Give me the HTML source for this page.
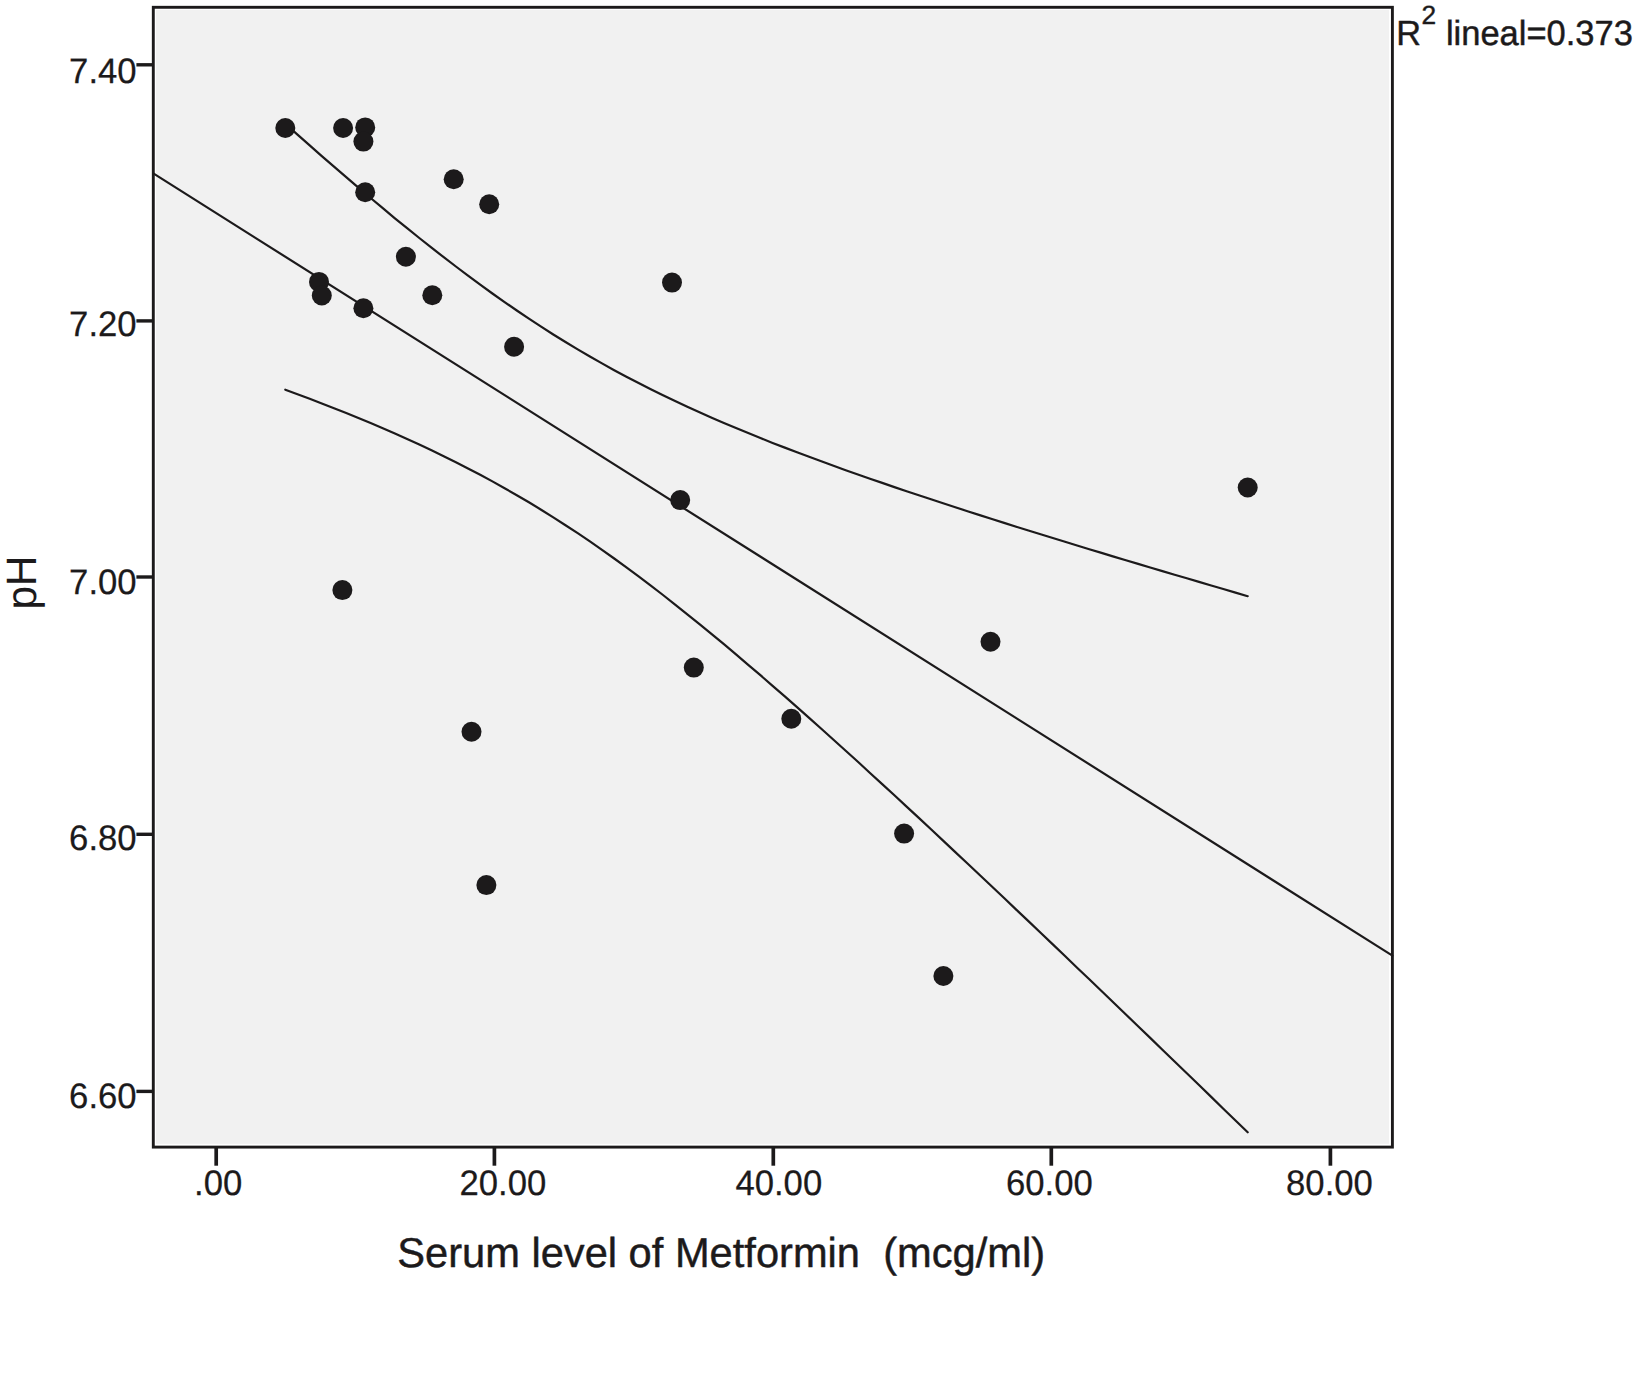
<!DOCTYPE html>
<html lang="en">
<head>
<meta charset="utf-8">
<title>pH vs serum level of Metformin</title>
<style>
html,body{margin:0;padding:0;background:#fff;}
body{width:1634px;height:1376px;overflow:hidden;}
svg{display:block;}
text{text-rendering:geometricPrecision;font-family:"Liberation Sans",sans-serif;fill:#1c1a1b;stroke:#1c1a1b;stroke-width:0.45px;stroke-linejoin:round;}
.curve{fill:none;stroke:#1c1a1b;stroke-width:2.2;stroke-linecap:round;stroke-linejoin:round;}
.tick{stroke:#1c1a1b;stroke-width:3.2;}
</style>
</head>
<body>
<svg width="1634" height="1376" viewBox="0 0 1634 1376">
<rect x="0" y="0" width="1634" height="1376" fill="#ffffff"/>
<rect x="156.0" y="10.0" width="1233.1" height="1133.8" fill="#f1f1f1"/>
<rect x="153.3" y="7.3" width="1239.1" height="1139.8" fill="none" stroke="#1c1a1b" stroke-width="2.9"/>
<g class="tick">
<line x1="136.4" y1="64.8" x2="153.3" y2="64.8" stroke-width="3.4"/>
<line x1="136.4" y1="320.9" x2="153.3" y2="320.9" stroke-width="3.4"/>
<line x1="136.4" y1="577.0" x2="153.3" y2="577.0" stroke-width="3.4"/>
<line x1="136.4" y1="834.3" x2="153.3" y2="834.3" stroke-width="3.4"/>
<line x1="136.4" y1="1091.4" x2="153.3" y2="1091.4" stroke-width="3.4"/>
<line x1="216.2" y1="1147.1" x2="216.2" y2="1165.7" stroke-width="3.7"/>
<line x1="494.4" y1="1147.1" x2="494.4" y2="1165.7" stroke-width="3.7"/>
<line x1="773.3" y1="1147.1" x2="773.3" y2="1165.7" stroke-width="3.7"/>
<line x1="1051.3" y1="1147.1" x2="1051.3" y2="1165.7" stroke-width="3.7"/>
<line x1="1330.4" y1="1147.1" x2="1330.4" y2="1165.7" stroke-width="3.7"/>
</g>
<text transform="translate(136.60 82.60) scale(0.98 1)" font-size="35.4" text-anchor="end" xml:space="preserve" style="stroke-width:0.25px">7.40</text>
<text transform="translate(136.60 336.40) scale(0.98 1)" font-size="35.4" text-anchor="end" xml:space="preserve" style="stroke-width:0.25px">7.20</text>
<text transform="translate(136.60 594.00) scale(0.98 1)" font-size="35.4" text-anchor="end" xml:space="preserve" style="stroke-width:0.25px">7.00</text>
<text transform="translate(136.60 849.80) scale(0.98 1)" font-size="35.4" text-anchor="end" xml:space="preserve" style="stroke-width:0.25px">6.80</text>
<text transform="translate(136.60 1108.20) scale(0.98 1)" font-size="35.4" text-anchor="end" xml:space="preserve" style="stroke-width:0.25px">6.60</text>
<text transform="translate(218.15 1194.50) scale(0.98 1)" font-size="35.4" text-anchor="middle" xml:space="preserve" style="stroke-width:0.25px">.00</text>
<text transform="translate(502.85 1194.50) scale(0.98 1)" font-size="35.4" text-anchor="middle" xml:space="preserve" style="stroke-width:0.25px">20.00</text>
<text transform="translate(778.80 1194.50) scale(0.98 1)" font-size="35.4" text-anchor="middle" xml:space="preserve" style="stroke-width:0.25px">40.00</text>
<text transform="translate(1049.40 1194.50) scale(0.98 1)" font-size="35.4" text-anchor="middle" xml:space="preserve" style="stroke-width:0.25px">60.00</text>
<text transform="translate(1329.45 1194.50) scale(0.98 1)" font-size="35.4" text-anchor="middle" xml:space="preserve" style="stroke-width:0.25px">80.00</text>
<path class="curve" d="M153.3 173.4 L1392.4 955.6"/>
<path class="curve" d="M285.3 123.7 L297.5 134.6 L309.7 145.4 L321.8 156.1 L334.0 166.7 L346.2 177.2 L358.4 187.7 L370.6 198.0 L382.8 208.2 L394.9 218.3 L407.1 228.2 L419.3 238.0 L431.5 247.7 L443.7 257.2 L455.9 266.5 L468.0 275.7 L480.2 284.7 L492.4 293.5 L504.6 302.1 L516.8 310.5 L528.9 318.7 L541.1 326.7 L553.3 334.5 L565.5 342.0 L577.7 349.4 L589.9 356.5 L602.0 363.4 L614.2 370.2 L626.4 376.7 L638.6 383.0 L650.8 389.2 L663.0 395.2 L675.1 401.0 L687.3 406.7 L699.5 412.3 L711.7 417.7 L723.9 422.9 L736.0 428.1 L748.2 433.1 L760.4 438.0 L772.6 442.9 L784.8 447.6 L797.0 452.3 L809.1 456.8 L821.3 461.3 L833.5 465.8 L845.7 470.2 L857.9 474.5 L870.0 478.7 L882.2 482.9 L894.4 487.1 L906.6 491.2 L918.8 495.3 L931.0 499.3 L943.1 503.3 L955.3 507.3 L967.5 511.2 L979.7 515.1 L991.9 519.0 L1004.1 522.9 L1016.2 526.7 L1028.4 530.5 L1040.6 534.3 L1052.8 538.0 L1065.0 541.8 L1077.1 545.5 L1089.3 549.2 L1101.5 552.9 L1113.7 556.6 L1125.9 560.2 L1138.1 563.9 L1150.2 567.5 L1162.4 571.1 L1174.6 574.7 L1186.8 578.3 L1199.0 581.9 L1211.2 585.5 L1223.3 589.0 L1235.5 592.6 L1247.7 596.2"/>
<path class="curve" d="M285.3 389.7 L297.5 394.2 L309.7 398.8 L321.8 403.5 L334.0 408.3 L346.2 413.1 L358.4 418.1 L370.6 423.1 L382.8 428.3 L394.9 433.6 L407.1 439.0 L419.3 444.6 L431.5 450.3 L443.7 456.2 L455.9 462.2 L468.0 468.4 L480.2 474.8 L492.4 481.4 L504.6 488.2 L516.8 495.2 L528.9 502.3 L541.1 509.7 L553.3 517.4 L565.5 525.2 L577.7 533.2 L589.9 541.4 L602.0 549.9 L614.2 558.5 L626.4 567.4 L638.6 576.4 L650.8 585.6 L663.0 595.0 L675.1 604.6 L687.3 614.3 L699.5 624.1 L711.7 634.1 L723.9 644.2 L736.0 654.4 L748.2 664.8 L760.4 675.2 L772.6 685.8 L784.8 696.4 L797.0 707.1 L809.1 717.9 L821.3 728.8 L833.5 739.8 L845.7 750.8 L857.9 761.8 L870.0 773.0 L882.2 784.1 L894.4 795.3 L906.6 806.6 L918.8 817.9 L931.0 829.3 L943.1 840.6 L955.3 852.1 L967.5 863.5 L979.7 875.0 L991.9 886.5 L1004.1 898.0 L1016.2 909.6 L1028.4 921.1 L1040.6 932.7 L1052.8 944.4 L1065.0 956.0 L1077.1 967.7 L1089.3 979.3 L1101.5 991.0 L1113.7 1002.7 L1125.9 1014.5 L1138.1 1026.2 L1150.2 1037.9 L1162.4 1049.7 L1174.6 1061.5 L1186.8 1073.3 L1199.0 1085.0 L1211.2 1096.9 L1223.3 1108.7 L1235.5 1120.5 L1247.7 1132.3"/>
<g fill="#1c1a1b">
<circle cx="285.3" cy="128.0" r="10"/>
<circle cx="343.1" cy="128.0" r="10"/>
<circle cx="365.2" cy="127.4" r="10"/>
<circle cx="363.4" cy="141.6" r="10"/>
<circle cx="365.2" cy="192.2" r="10"/>
<circle cx="453.7" cy="179.3" r="10"/>
<circle cx="489.2" cy="204.3" r="10"/>
<circle cx="405.9" cy="256.8" r="10"/>
<circle cx="319.0" cy="281.9" r="10"/>
<circle cx="321.8" cy="295.5" r="10"/>
<circle cx="363.4" cy="308.2" r="10"/>
<circle cx="432.3" cy="295.2" r="10"/>
<circle cx="514.1" cy="346.7" r="10"/>
<circle cx="672.0" cy="282.6" r="10"/>
<circle cx="680.2" cy="500.1" r="10"/>
<circle cx="342.4" cy="590.1" r="10"/>
<circle cx="693.8" cy="667.6" r="10"/>
<circle cx="471.5" cy="731.7" r="10"/>
<circle cx="791.3" cy="718.8" r="10"/>
<circle cx="486.4" cy="885.1" r="10"/>
<circle cx="904.1" cy="833.6" r="10"/>
<circle cx="943.4" cy="976.0" r="10"/>
<circle cx="990.5" cy="641.7" r="10"/>
<circle cx="1247.7" cy="487.5" r="10"/>
</g>
<text transform="translate(397.20 1267.30)" font-size="41.65" text-anchor="start" xml:space="preserve">Serum level of Metformin  (mcg/ml)</text>
<text transform="translate(36.00 609.50) rotate(-90)" font-size="42.5" text-anchor="start" xml:space="preserve" letter-spacing="-0.3" style="stroke-width:0">pH</text>
<text transform="translate(1396.20 45.20) scale(0.98 1)" font-size="35" text-anchor="start" xml:space="preserve">R</text>
<text transform="translate(1421.50 24.20)" font-size="26.3" text-anchor="start" xml:space="preserve">2</text>
<text transform="translate(1445.90 45.20) scale(0.985 1)" font-size="35" text-anchor="start" xml:space="preserve">lineal=0.373</text>
</svg>
</body>
</html>
